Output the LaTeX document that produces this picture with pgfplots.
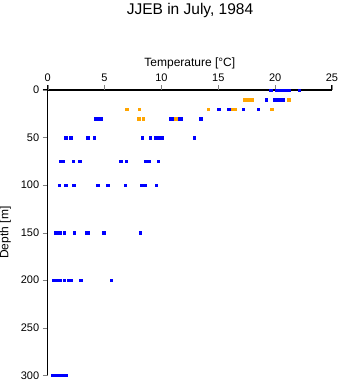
\documentclass[border=0pt]{standalone}
\usepackage{fontspec}
\setmainfont{Liberation Sans}
\usepackage{pgfplots}
\pgfplotsset{compat=1.18}
\definecolor{cblue}{RGB}{0,0,255}
\definecolor{corange}{RGB}{255,165,0}
\pgfplotstableread{
T D
19.6 0
20.15 0
20.4 0
20.6 0
20.8 0
21.0 0
21.2 0
22.1 0
19.2 10
19.95 10
20.2 10
20.45 10
20.65 10
15.05 20
15.9 20
17.2 20
18.5 20
4.2 30
4.45 30
4.65 30
10.8 30
11.0 30
11.6 30
11.75 30
13.45 30
1.6 50
2.0 50
3.5 50
4.1 50
8.3 50
9.0 50
9.5 50
9.67 50
10.0 50
12.9 50
1.1 75
1.3 75
2.25 75
2.8 75
6.4 75
6.9 75
8.6 75
8.75 75
8.9 75
9.7 75
1.0 100
1.6 100
2.3 100
4.4 100
5.25 100
6.8 100
8.27 100
8.56 100
9.55 100
0.7 150
0.9 150
1.1 150
1.46 150
2.34 150
3.4 150
3.5 150
4.9 150
8.15 150
0.5 200
0.7 200
0.9 200
1.08 200
1.46 200
1.85 200
2.05 200
2.9 200
5.6 200
0.45 300
0.7 300
0.95 300
1.2 300
1.45 300
1.6 300
}\bluedata
\pgfplotstableread{
T D
17.3 10
17.55 10
17.8 10
18.0 10
21.2 10
6.95 20
8.06 20
14.1 20
16.25 20
16.45 20
19.7 20
8.0 30
8.4 30
11.26 30
}\orangedata
\begin{document}
\begin{tikzpicture}[x=1pt,y=1pt]
\path[use as bounding box] (0,0) rectangle (341,-384);
\node[font=\fontsize{15.5}{17}\selectfont, anchor=base] at (190,-14) {JJEB in July, 1984};
\draw[black, line width=1.1pt] (42.5,-90) -- (332,-90);
\foreach \px in {47.7,104.56,161.42,218.28,275.14,332} {
  \draw[black, line width=1.1pt] (\px,-90) -- (\px,-85);
}
\begin{axis}[
  at={(47.7pt,-90pt)}, anchor=north west,
  scale only axis, width=284.3pt, height=285.3pt,
  xmin=0, xmax=25, ymin=0, ymax=300,
  y dir=reverse,
  axis x line=top, axis y line=left,
  axis line style={-, black, line width=1pt},
  tick align=outside,
  major tick length=5pt,
  xtick={0,5,10,15,20,25}, ytick={0,50,100,150,200,250,300},
  tick label style={font=\fontsize{11}{12}\selectfont},
  /pgf/number format/assume math mode=true,
  xlabel={Temperature [°C]},
  ylabel={Depth [m]},
  label style={font=\fontsize{12}{13}\selectfont},
  xlabel style={yshift=-2pt},
  ylabel style={yshift=3pt},
  clip=false,
]
\addplot[only marks, mark=square*, mark size=1.3pt, color=cblue] table[x=T,y=D] {\bluedata};
\addplot[only marks, mark=square*, mark size=1.3pt, color=corange] table[x=T,y=D] {\orangedata};
\end{axis}
\end{tikzpicture}
\end{document}
